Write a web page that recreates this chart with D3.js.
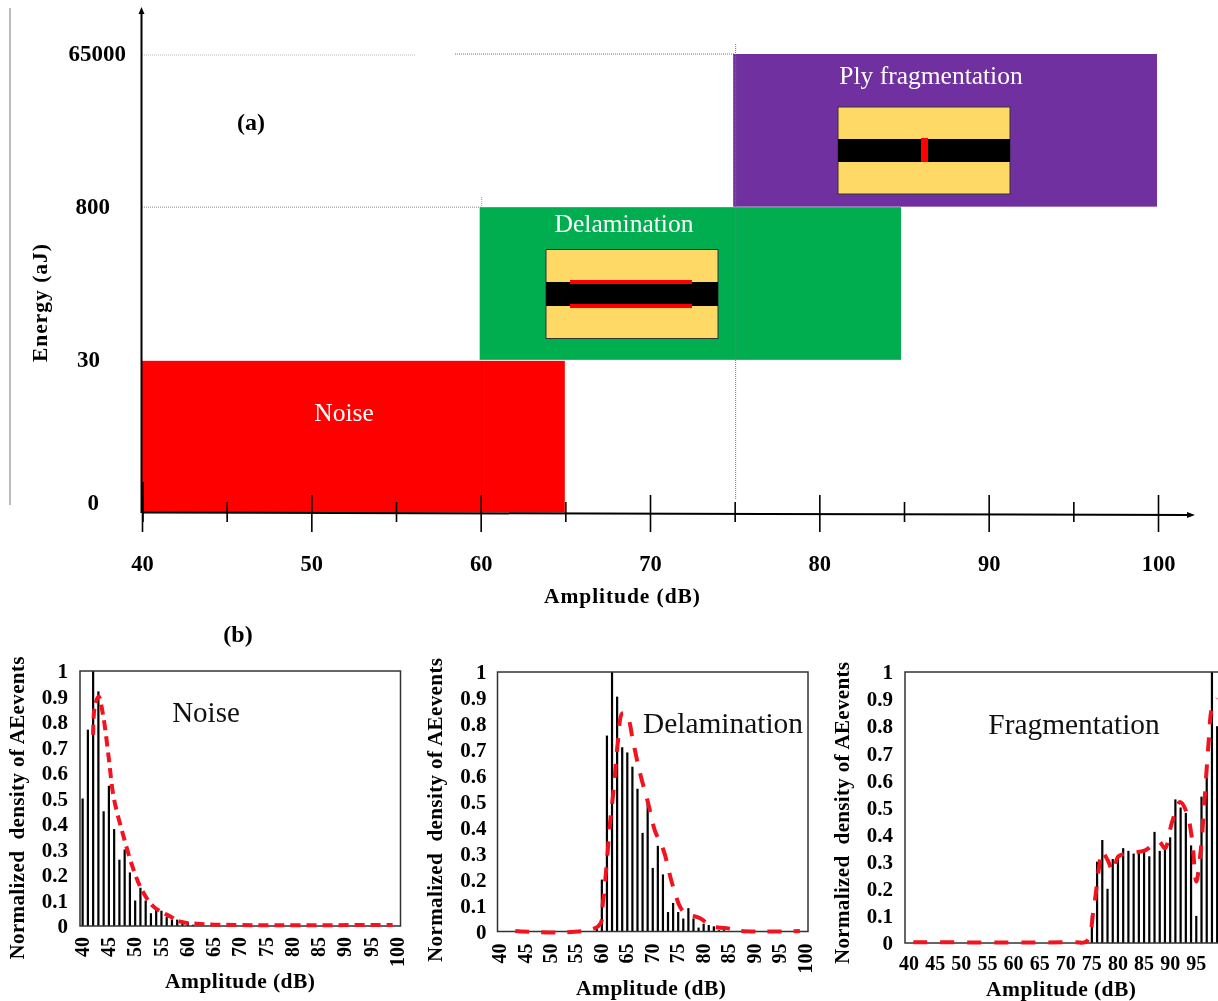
<!DOCTYPE html>
<html><head><meta charset="utf-8">
<script src="https://cdn.jsdelivr.net/npm/d3@7"></script>
<style>
html,body{margin:0;padding:0;background:#fff;overflow:hidden}
svg{display:block;font-family:"Liberation Serif","Times New Roman",serif;filter:blur(0.3px)}
svg text{font-family:"Liberation Serif","Times New Roman",serif}
.b{font-weight:bold}
</style></head><body>
<svg id="c" width="1218" height="1001"></svg>
<script>
// ---------- (a) mechanism map ----------
const energyLevels = ["0","30","800","65000"];
const amplitudeMajor = [40,50,60,70,80,90,100];
const amplitudeMinor = [45,55,65,75,85,95];
const zoneNames = ["Noise","Delamination","Ply fragmentation"];
const zoneAmpLow = [40,60,75];
const zoneAmpHigh = [65,85,100];
const zoneEnergyLow = ["0","30","800"];
const zoneEnergyHigh = ["30","800","65000"];
const zoneColors = ["#ff0000","#00ad4f","#7030a0"];

// ---------- (b) histograms: amplitude 40..100 dB ----------
const amplitudes = d3.range(40,101);
const tickLabels = [40,45,50,55,60,65,70,75,80,85,90,95,100];
const fragTickLabels = [40,45,50,55,60,65,70,75,80,85,90,95];
const yTicks = [0,0.1,0.2,0.3,0.4,0.5,0.6,0.7,0.8,0.9,1];

const noiseBars = [0.5,0.77,1,0.92,0.45,0.55,0.38,0.26,0.3,0.21,0.1,0.15,0.1,0.05,0.07,0.06,0.035,0.025,0.025,0.02,0.015,0.005];
const noiseCurveX = [42,42.3,43.05,43.9,44.95,45.9,47.8,49.7,51.3,53.5,56.7,58.6,62.4,69,99];
const noiseCurveY = [0.75,0.86,0.9,0.826,0.663,0.506,0.35,0.22,0.14,0.076,0.037,0.017,0.008,0.004,0.004];

const delamBarsFrom59 = [0.02,0.2,0.755,1,0.905,0.71,0.69,0.635,0.55,0.38,0.5,0.245,0.33,0.22,0.075,0.11,0.075,0.05,0.09,0.05,0.015,0.03,0.025,0.02,0.005,0.005];
const delamCurveX = [43,59.3,60.2,60.9,61.6,62.3,63.2,64,64.9,66.2,67.5,69.1,70.4,72.1,74,76,79.3,81.6,84.5,87.1,98.9];
const delamCurveY = [0.002,0.02,0.11,0.25,0.417,0.545,0.74,0.84,0.834,0.725,0.61,0.494,0.39,0.314,0.173,0.077,0.051,0.02,0.013,0.002,0.002];

const fragBarsFrom75 = [0.1,0.3,0.38,0.2,0.31,0.32,0.35,0.34,0.33,0.34,0.34,0.32,0.41,0.34,0.35,0.39,0.53,0.5,0.48,0.36,0.1,0.54,0.65,1,0.8];
const fragCurveX = [40.8,71.5,74,75.4,76.4,76.9,78,79.1,80.1,82.6,85.2,87.8,89,90.3,91.9,93.2,94.2,95,95.8,96.5,97.4,98,99];
const fragCurveY = [0.003,0.003,0.006,0.135,0.283,0.338,0.307,0.264,0.32,0.332,0.342,0.375,0.35,0.442,0.52,0.48,0.38,0.227,0.332,0.504,0.75,0.866,0.903];

const svg = d3.select("#c");
const x = d3.scaleLinear().domain([40,100]).range([142,1158]);
const y = d3.scalePoint().domain(energyLevels).range([512,54]);

svg.append("line").attr("x1",10).attr("x2",10).attr("y1",8).attr("y2",505).attr("stroke","#777").attr("stroke-width",1);

const dotted = (x1,y1,x2,y2,c="#888")=>svg.append("line").attr("x1",x1).attr("y1",y1).attr("x2",x2).attr("y2",y2)
  .attr("stroke",c).attr("stroke-width",1).attr("stroke-dasharray","1,1");
dotted(x(40),y("65000")+1,416,y("65000")+1,"#bbb");
dotted(455,y("65000"),x(75),y("65000"),"#777");
dotted(x(40),y("800")+0.5,x(60),y("800")+0.5,"#888");

const zoneInsetL = [0,-1,-1.5], zoneInsetR = [-0.5,-3,-1];
svg.selectAll("rect.zone").data(zoneNames).join("rect").attr("class","zone")
  .attr("x",(d,i)=>x(zoneAmpLow[i])+zoneInsetL[i])
  .attr("width",(d,i)=>x(zoneAmpHigh[i])-x(zoneAmpLow[i])+zoneInsetR[i]-zoneInsetL[i])
  .attr("y",(d,i)=>y(zoneEnergyHigh[i])+(i==0?1.5:i==1?0.5:0))
  .attr("height",(d,i)=>y(zoneEnergyLow[i])-y(zoneEnergyHigh[i])-(i==0?1:0))
  .attr("fill",(d,i)=>zoneColors[i]);
dotted(x(75)+1,44,x(75)+1,500,"#777");
dotted(x(60)+1,197,x(60)+1,207,"#999");
dotted(x(60)+1,361,x(60)+1,512,"#d40000");

function inset(l,t,w,h,bandT,bandB){
  svg.append("rect").attr("x",l).attr("y",t).attr("width",w).attr("height",h).attr("fill","#ffd966").attr("stroke","#333").attr("stroke-width",1);
  svg.append("rect").attr("x",l).attr("y",bandT).attr("width",w).attr("height",bandB-bandT).attr("fill","#000");
}
inset(546,249.5,172,89,282,306);
svg.append("rect").attr("x",570).attr("y",280).attr("width",122).attr("height",4).attr("fill","#ff0000");
svg.append("rect").attr("x",570).attr("y",304).attr("width",122).attr("height",4).attr("fill","#ff0000");
inset(838,107,172,87,139,162);
svg.append("rect").attr("x",921).attr("y",138).attr("width",7).attr("height",24).attr("fill","#ff0000");

const zoneLabelX = [344,624,931], zoneLabelY = [421,232,84];
svg.selectAll("text.zl").data(zoneNames).join("text").attr("class","zl")
  .attr("x",(d,i)=>zoneLabelX[i]).attr("y",(d,i)=>zoneLabelY[i])
  .attr("text-anchor","middle").attr("fill","#fff").attr("font-size",25.5).text(d=>d);

svg.append("line").attr("x1",141.5).attr("y1",12).attr("x2",141.5).attr("y2",513).attr("stroke","#000").attr("stroke-width",2);
svg.append("path").attr("d","M141.5 7 L138.5 14 L144.5 14 Z").attr("fill","#000");
svg.append("line").attr("x1",142).attr("y1",512.5).attr("x2",1188).attr("y2",515).attr("stroke","#000").attr("stroke-width",2);
svg.append("path").attr("d","M1195 515 L1187 512 L1187 518 Z").attr("fill","#000");

const gx = svg.append("g").attr("transform","translate(0,513)")
  .call(d3.axisBottom(x).tickValues(amplitudeMajor).tickSize(19).tickPadding(23).tickFormat(d3.format("d")));
gx.select(".domain").remove();
gx.selectAll(".tick line").attr("y1",-18).attr("stroke","#000").attr("stroke-width",1.6);
gx.selectAll("text").attr("class","b").attr("font-size",22.5).attr("fill","#000");
const gxm = svg.append("g").attr("transform","translate(0,513)")
  .call(d3.axisBottom(x).tickValues(amplitudeMinor).tickSize(9).tickFormat(""));
gxm.select(".domain").remove();
gxm.selectAll(".tick line").attr("y1",-11).attr("stroke","#000").attr("stroke-width",1.6);
svg.append("line").attr("x1",x(40)+1).attr("x2",x(40)+1).attr("y1",482).attr("y2",522).attr("stroke","#000").attr("stroke-width",1.6);

const energyLabelRight = {"0":99,"30":100,"800":110,"65000":126};
const gy = svg.append("g").call(d3.axisLeft(y).tickSize(0).tickPadding(0));
gy.select(".domain").remove();
gy.selectAll("text").attr("class","b").attr("font-size",23).attr("fill","#000")
  .attr("text-anchor","end").attr("x",d=>energyLabelRight[d])
  .attr("dy",d=>d==="0"?"-0.1em":"0.3em");

const boldText=(t,px,py,fs,rot,len)=>{
  const e=svg.append("text").attr("class","b").attr("text-anchor","middle").attr("font-size",fs)
   .attr("transform",`translate(${px},${py})`+(rot?` rotate(${rot})`:"")).attr("fill","#000").text(t);
  if(len) e.attr("textLength",len).attr("lengthAdjust","spacing");
  return e;
};
boldText("Amplitude (dB)",622,603,21.5,0,156);
boldText("Energy (aJ)",47,303,21.5,-90,118);
boldText("(a)",251,130,24,0);
boldText("(b)",238,642,24,0);

function panel(o){
  const g = svg.append("g");
  const xb = d3.scaleBand().domain(amplitudes).range([o.l,o.r]);
  const yv = d3.scaleLinear().domain([0,1]).range([o.b,o.t]);
  g.selectAll("rect.bar").data(o.bars).join("rect").attr("class","bar")
    .attr("x",d=>xb(d.a)+xb.bandwidth()/2-1.1).attr("width",2.2)
    .attr("y",d=>yv(d.v)).attr("height",d=>o.b-yv(d.v)).attr("fill","#000");
  const fl = o.frameL===undefined?o.l:o.frameL;
  g.append("rect").attr("x",fl).attr("y",o.t).attr("width",o.r-fl).attr("height",o.b-o.t)
    .attr("fill","none").attr("stroke","#333").attr("stroke-width",1.5);
  const xc = d=>xb(d)+xb.bandwidth()/2;
  const lin = d3.scaleLinear().domain([40,100]).range([xc(40),xc(100)]);
  const pts = o.cx.map((v,i)=>[lin(v),yv(o.cy[i])]);
  g.append("path").attr("d",d3.line().curve(d3.curveCatmullRom.alpha(0.5))(pts))
    .attr("fill","none").attr("stroke","#f5121f").attr("stroke-width",4).attr("stroke-dasharray",o.dash);
  const ay = g.append("g").attr("transform",`translate(${fl},0)`)
    .call(d3.axisLeft(yv).tickValues(yTicks).tickSize(0).tickPadding(o.yPad).tickFormat(d=>d));
  ay.select(".domain").remove();
  ay.selectAll("text").attr("class","b").attr("font-size",21).attr("fill","#000");
  const ax = g.append("g").attr("transform",`translate(0,${o.b})`)
    .call(d3.axisBottom(xb).tickValues(o.labels).tickSize(0).tickFormat(d=>d));
  ax.select(".domain").remove();
  const tx = ax.selectAll("text").attr("class","b").attr("font-size",20).attr("fill","#000");
  if(o.rotate){
    tx.attr("text-anchor","end").attr("y",0).attr("dy",0)
      .attr("transform",`translate(1.5,${o.labelGap}) rotate(-90)`).attr("dominant-baseline","middle");
  } else {
    tx.attr("y",o.labelGap).attr("dy",0);
  }
  boldText("Normalized  density of AEevents",o.ylX,o.ylY,21,-90,o.ylLen).style("white-space","pre");
  boldText("Amplitude (dB)",o.xlX,o.xlY,21.5,0,150);
  g.append("text").attr("x",o.nameX).attr("y",o.nameY).attr("text-anchor","middle").attr("font-size",o.nameFs).attr("fill","#111").text(o.name);
}
panel({name:"Noise",nameX:206,nameY:722,nameFs:29,l:80,r:400.5,t:671,b:926,yPad:12,rotate:true,labelGap:11,labels:tickLabels,
  bars:noiseBars.map((v,i)=>({a:40+i,v})),cx:noiseCurveX,cy:noiseCurveY,dash:"10,6",
  ylX:24,ylY:808,ylLen:303,xlX:240,xlY:988});
panel({name:"Delamination",nameX:723,nameY:733,nameFs:29.4,l:497.5,r:808,t:672,b:931.5,yPad:11,rotate:true,labelGap:12,labels:tickLabels,
  bars:delamBarsFrom59.map((v,i)=>({a:59+i,v})),cx:delamCurveX,cy:delamCurveY,dash:"14,12",
  ylX:442,ylY:810,ylLen:304,xlX:651,xlY:995});
panel({name:"Fragmentation",nameX:1074,nameY:734,nameFs:29.4,l:906.5,frameL:905,r:1225,t:672,b:943,yPad:12,rotate:false,labelGap:27,labels:fragTickLabels,
  bars:fragBarsFrom75.map((v,i)=>({a:75+i,v})),cx:fragCurveX,cy:fragCurveY,dash:"14,13",
  ylX:849,ylY:813,ylLen:302,xlX:1061,xlY:996});
</script>
</body></html>
